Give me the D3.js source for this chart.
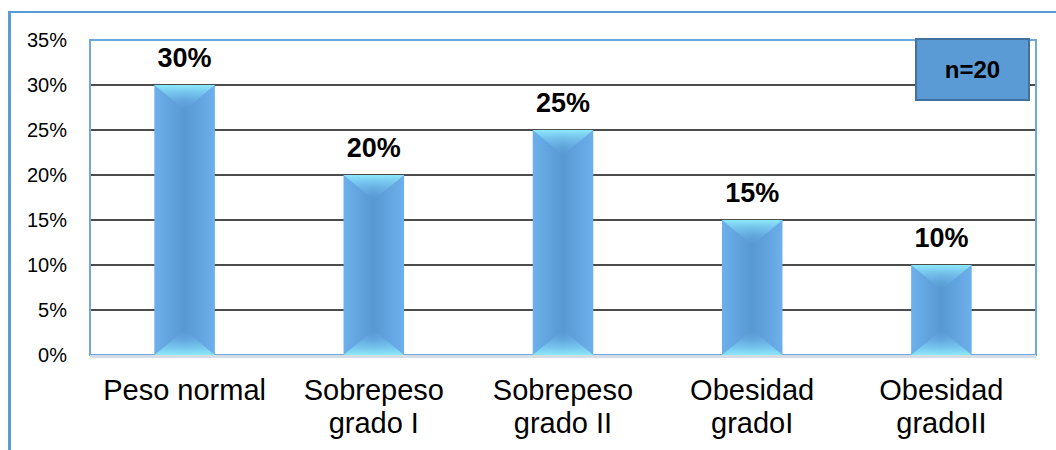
<!DOCTYPE html>
<html>
<head>
<meta charset="utf-8">
<script src="https://cdn.jsdelivr.net/npm/d3@7"></script>
<style>
  body { margin: 0; background: #fff; }
  svg text { font-family: Arial, "Liberation Sans", sans-serif; }
</style>
</head>
<body>
<div id="chart"></div>
<script>
// data
var categories = ["Peso normal", "Sobrepeso grado I", "Sobrepeso grado II", "Obesidad gradoI", "Obesidad gradoII"];
var labelLines = [["Peso normal"], ["Sobrepeso", "grado I"], ["Sobrepeso", "grado II"], ["Obesidad", "gradoI"], ["Obesidad", "gradoII"]];
var values = [0.30, 0.20, 0.25, 0.15, 0.10];
var yTicks = [0, 0.05, 0.10, 0.15, 0.20, 0.25, 0.30, 0.35];
var sampleNote = "n=20";

var W = 1056, H = 450;
var margin = {left: 90, top: 40, right: 20, bottom: 95};
var width = W - margin.left - margin.right;   // 946
var height = H - margin.top - margin.bottom;  // 315

var svg = d3.select("#chart").append("svg")
  .attr("width", W)
  .attr("height", H);

var defs = svg.append("defs");

// horizontal shading on the bars: lighter edges, darker middle
var hg = defs.append("linearGradient").attr("id", "barH")
  .attr("x1", "0%").attr("x2", "100%").attr("y1", "0%").attr("y2", "0%");
hg.append("stop").attr("offset", "0%").attr("stop-color", "#6cb0ec");
hg.append("stop").attr("offset", "50%").attr("stop-color", "#5898d2");
hg.append("stop").attr("offset", "100%").attr("stop-color", "#6cb0ec");

// bevel highlights top / bottom
var tg = defs.append("linearGradient").attr("id", "bevelTop")
  .attr("x1", "0%").attr("x2", "0%").attr("y1", "0%").attr("y2", "100%");
tg.append("stop").attr("offset", "0%").attr("stop-color", "#8de8fc").attr("stop-opacity", 1);
tg.append("stop").attr("offset", "100%").attr("stop-color", "#64a8e4").attr("stop-opacity", 0);

var bg = defs.append("linearGradient").attr("id", "bevelBot")
  .attr("x1", "0%").attr("x2", "0%").attr("y1", "100%").attr("y2", "0%");
bg.append("stop").attr("offset", "0%").attr("stop-color", "#8de8fc").attr("stop-opacity", 1);
bg.append("stop").attr("offset", "100%").attr("stop-color", "#64a8e4").attr("stop-opacity", 0);

// outer chart frame (only top and left visible)
svg.append("line").attr("x1", 9.5).attr("x2", W).attr("y1", 12).attr("y2", 12)
  .attr("stroke", "#5b9bd5").attr("stroke-width", 2);
svg.append("line").attr("x1", 9.5).attr("x2", 9.5).attr("y1", 11).attr("y2", H)
  .attr("stroke", "#5b9bd5").attr("stroke-width", 3);

var g = svg.append("g").attr("transform", "translate(" + margin.left + "," + margin.top + ")");

var x = d3.scaleBand().domain(categories).range([0, width]).paddingInner(0.68).paddingOuter(0.34);
var y = d3.scaleLinear().domain([0, 0.35]).range([height, 0]);

// gridlines
g.selectAll(".grid")
  .data(yTicks.filter(function(d) { return d > 0 && d < 0.35; }))
  .enter().append("line")
  .attr("x1", 0).attr("x2", width)
  .attr("y1", function(d) { return y(d); })
  .attr("y2", function(d) { return y(d); })
  .attr("stroke", "#111").attr("stroke-width", 1.3);

// plot area border
g.append("rect").attr("x", 0).attr("y", 0).attr("width", width).attr("height", height)
  .attr("fill", "none").attr("stroke", "#6fa8dc").attr("stroke-width", 2);

// y axis labels
var yAxis = d3.axisLeft(y).tickValues(yTicks).tickSize(0).tickPadding(23)
  .tickFormat(d3.format(".0%"));
g.append("g").call(yAxis)
  .attr("font-size", 20)
  .call(function(s) { s.select(".domain").remove(); })
  .selectAll("text")
  .attr("font-size", 20).attr("fill", "#000")
  .attr("font-family", "Arial, 'Liberation Sans', sans-serif");

// bars
var bars = g.selectAll(".bar").data(values).enter().append("g").attr("class", "bar");
var bevel = 25;

bars.append("rect")
  .attr("x", function(d, i) { return x(categories[i]); })
  .attr("y", function(d) { return y(d); })
  .attr("width", x.bandwidth())
  .attr("height", function(d) { return height - y(d); })
  .attr("fill", "url(#barH)");

bars.append("path")
  .attr("d", function(d, i) {
    var x0 = x(categories[i]), x1 = x0 + x.bandwidth(), xc = (x0 + x1) / 2, y0 = y(d);
    return "M" + x0 + "," + y0 + "L" + x1 + "," + y0 + "L" + xc + "," + (y0 + bevel) + "Z";
  })
  .attr("fill", "url(#bevelTop)");

bars.append("path")
  .attr("d", function(d, i) {
    var x0 = x(categories[i]), x1 = x0 + x.bandwidth(), xc = (x0 + x1) / 2, y0 = y(0);
    return "M" + x0 + "," + y0 + "L" + x1 + "," + y0 + "L" + xc + "," + (y0 - bevel) + "Z";
  })
  .attr("fill", "url(#bevelBot)");

// value labels
bars.append("text")
  .attr("x", function(d, i) { return x(categories[i]) + x.bandwidth() / 2; })
  .attr("y", function(d) { return y(d) - 18; })
  .attr("text-anchor", "middle")
  .attr("font-size", 27).attr("font-weight", "bold")
  .text(function(d) { return d3.format(".0%")(d); });

// x axis line
g.append("line").attr("x1", 0).attr("x2", width).attr("y1", height + 1.5).attr("y2", height + 1.5)
  .attr("stroke", "#d4dce6").attr("stroke-width", 3);

// category labels
var xl = g.selectAll(".xlab").data(labelLines).enter().append("text")
  .attr("class", "xlab")
  .attr("text-anchor", "middle")
  .attr("font-size", 29)
  .attr("x", function(d, i) { return x(categories[i]) + x.bandwidth() / 2; })
  .attr("y", height + 45);
xl.selectAll("tspan").data(function(d) { return d; }).enter().append("tspan")
  .attr("x", function() { return d3.select(this.parentNode).attr("x"); })
  .attr("dy", function(d, i) { return i === 0 ? 0 : 33; })
  .text(function(d) { return d; });

// n=20 box
var note = svg.append("g").attr("transform", "translate(916,39)");
note.append("rect").attr("width", 113).attr("height", 61)
  .attr("fill", "#5b9bd5").attr("stroke", "#41719c").attr("stroke-width", 2);
note.append("text").attr("x", 56.5).attr("y", 39)
  .attr("text-anchor", "middle").attr("font-size", 24).attr("font-weight", "bold")
  .text(sampleNote);
</script>
</body>
</html>
